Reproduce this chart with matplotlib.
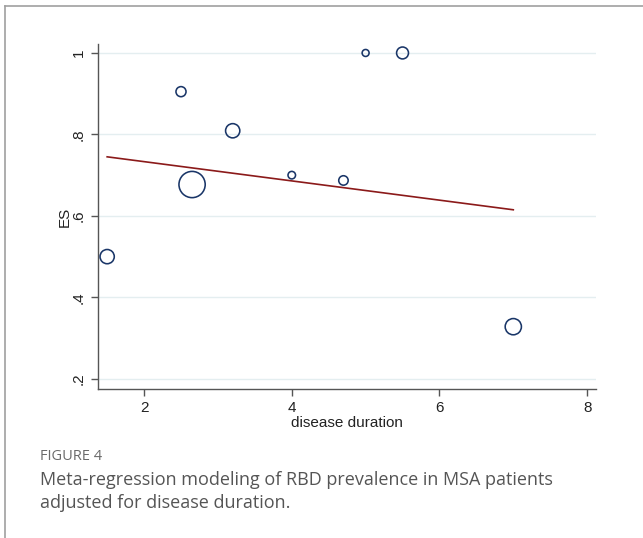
import matplotlib
matplotlib.use("Agg")
import matplotlib.pyplot as plt
from matplotlib.lines import Line2D
import numpy as np

duration = [1.5, 2.5, 2.65, 3.2, 4.0, 4.7, 5.0, 5.5, 7.0]
es = [0.50, 0.905, 0.677, 0.809, 0.70, 0.687, 1.0, 1.0, 0.328]
weights = [50, 25, 170, 50, 14, 22, 12, 35, 65]
fit_x = [1.5, 7.0]
fit_y = [0.745, 0.615]
xticks = [2, 4, 6, 8]
yticks = [0.2, 0.4, 0.6, 0.8, 1.0]
yticklabels = [".2", ".4", ".6", ".8", "1"]

plt.rcParams['font.family'] = ['Liberation Sans', 'DejaVu Sans']

W, H = 643, 538
fig = plt.figure(figsize=(W/100, H/100), dpi=100)
ax = fig.add_axes([98/W, 1-389/H, (596-98)/W, (389-44)/H])

for y in yticks:
    ax.axhline(y, color='#e4eef0', lw=1.0, zorder=0)

ax.scatter(duration, es, s=[w*2.1 for w in weights], facecolors='none',
           edgecolors='#1a3668', linewidths=1.15, zorder=3)
ax.plot(fit_x, fit_y, color='#8b1a1a', lw=1.2, zorder=2)

ax.set_xlim(1.376, 8.12)
ax.set_ylim(0.175, 1.022)
ax.set_xticks(xticks)
ax.set_xticklabels([str(t) for t in xticks])
ax.set_yticks(yticks)
ax.set_yticklabels(yticklabels, rotation=90, va='center')
for s in ['top', 'right']:
    ax.spines[s].set_visible(False)
for s in ['left', 'bottom']:
    ax.spines[s].set_color('#555555')
    ax.spines[s].set_linewidth(1.0)
ax.tick_params(direction='out', length=5, width=1, color='#555555', labelsize=11, labelcolor='#222222')
ax.tick_params(axis='y', pad=4)
ax.set_xlabel('disease duration', fontsize=11, color='#222222', labelpad=1)
ax.set_ylabel('ES', fontsize=11, color='#222222', labelpad=0)

# frame lines
fig.add_artist(Line2D([5/W, 1], [1-6/H, 1-6/H], color='#a0a0a0', lw=1.2))
fig.add_artist(Line2D([5/W, 5/W], [1-6/H, 0], color='#a0a0a0', lw=1.2))

fig.text(40/W, 1-457/H, 'FIGURE 4', fontsize=10.5, color='#6a6a6a',
         family=['Open Sans', 'DejaVu Sans'], va='center')
fig.text(40/W, 1-480/H, 'Meta-regression modeling of RBD prevalence in MSA patients',
         fontsize=13, color='#555555', family=['Open Sans', 'DejaVu Sans'], va='center')
fig.text(40/W, 1-503/H, 'adjusted for disease duration.',
         fontsize=13, color='#555555', family=['Open Sans', 'DejaVu Sans'], va='center')

fig.savefig('out.png', dpi=100)
